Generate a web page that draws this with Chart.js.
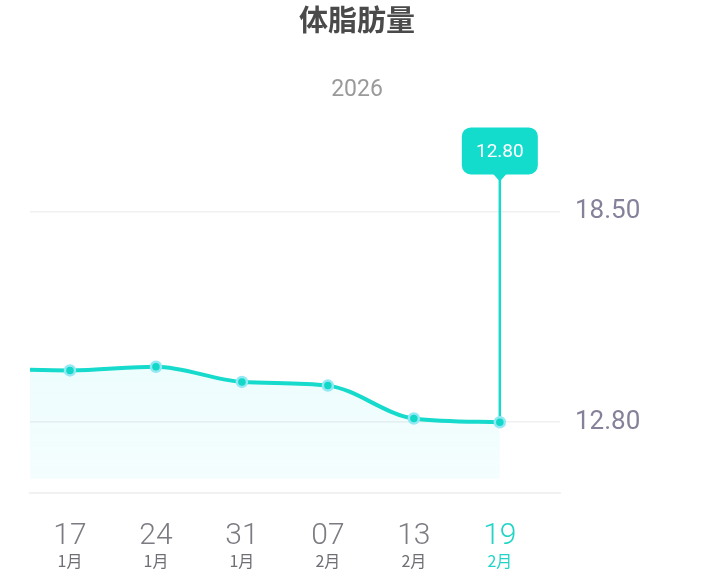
<!DOCTYPE html>
<html>
<head>
<meta charset="utf-8">
<script src="https://cdn.jsdelivr.net/npm/chart.js@4/dist/chart.umd.min.js"></script>
<style>
  html, body { margin: 0; padding: 0; background: #fff; }
  canvas { display: block; }
</style>
</head>
<body>
<canvas id="fatChart" width="714" height="576"></canvas>
<script>
// data
var dayLabels = ["17", "24", "31", "07", "13", "19"];
var monthLabels = ["1月", "1月", "1月", "2月", "2月", "2月"];
var fatMass = [14.20, 14.30, 13.89, 13.79, 12.90, 12.80];
var prevFatMass = 14.25; // reading before 17 Jan, only its line shows at the left edge
var yTicks = [12.80, 18.50];

var TEAL = "#16dacb";
var lastIdx = fatMass.length - 1;

// points on a linear index axis so the earlier reading can sit off the left edge
var points = [{ x: -1, y: prevFatMass }].concat(
    fatMass.map(function (v, i) { return { x: i, y: v }; })
);

function indexTicks(scale) {
    scale.ticks = dayLabels.map(function (d, i) { return { value: i }; });
}

// the selected-point marker: vertical line + value bubble
var markerPlugin = {
    id: "marker",
    beforeDatasetsDraw: function (chart) {
        var ctx = chart.ctx;
        var x = chart.scales.x.getPixelForValue(lastIdx);
        var y = chart.scales.y.getPixelForValue(fatMass[lastIdx]);
        var bottom = chart.chartArea.top - 37;
        var w = 76, h = 47, r = 9;
        ctx.save();
        ctx.strokeStyle = TEAL;
        ctx.lineWidth = 2.5;
        ctx.beginPath();
        ctx.moveTo(x, bottom + 4);
        ctx.lineTo(x, y);
        ctx.stroke();

        ctx.fillStyle = "#13dccd";
        ctx.beginPath();
        ctx.roundRect(x - w / 2, bottom - h, w, h, r);
        ctx.fill();
        ctx.beginPath();
        ctx.moveTo(x - 7, bottom - 1);
        ctx.lineTo(x + 7, bottom - 1);
        ctx.lineTo(x, bottom + 7);
        ctx.closePath();
        ctx.fill();

        ctx.fillStyle = "#ffffff";
        ctx.font = "19px Roboto";
        ctx.textAlign = "center";
        ctx.textBaseline = "middle";
        ctx.fillText(fatMass[lastIdx].toFixed(2), x, bottom - h / 2 + 1);
        ctx.restore();
    }
};

new Chart(document.getElementById("fatChart"), {
    type: "line",
    data: {
        datasets: [{
            data: points,
            xAxisID: "x",
            yAxisID: "y",
            borderColor: TEAL,
            borderWidth: 4,
            cubicInterpolationMode: "monotone",
            pointRadius: function (c) { return c.dataIndex === 0 ? 0 : 5; },
            pointBackgroundColor: "#12d8c8",
            pointBorderColor: "#92e8f4",
            pointBorderWidth: 2.5,
            fill: { value: 11.27 },
            backgroundColor: function (c) {
                var area = c.chart.chartArea;
                if (!area) return "rgba(20,220,230,0.07)";
                var g = c.chart.ctx.createLinearGradient(0, area.top + 150, 0, area.bottom);
                g.addColorStop(0, "rgba(20,222,232,0.08)");
                g.addColorStop(1, "rgba(20,222,232,0.04)");
                return g;
            }
        }]
    },
    options: {
        responsive: false,
        animation: false,
        layout: { padding: 0 },
        plugins: {
            legend: { display: false },
            tooltip: { enabled: false },
            title: {
                display: true,
                text: "体脂肪量",
                color: "#4a4a4a",
                font: { family: "'Noto Sans CJK SC', 'Noto Sans'", size: 29, weight: "bold" },
                padding: { top: 3, bottom: 0 }
            },
            subtitle: {
                display: true,
                text: "2026",
                color: "#9a9a9a",
                font: { family: "Roboto", size: 23 },
                padding: { top: 39, bottom: 107 }
            }
        },
        scales: {
            x: {
                type: "linear",
                position: "bottom",
                weight: 0,
                min: -0.465,
                max: 5.7,
                afterBuildTicks: indexTicks,
                afterFit: function (s) { s.height = 54; },
                grid: { display: false, drawTicks: false },
                border: { display: true, color: "#f1f1f1", width: 2 },
                ticks: {
                    padding: 26,
                    font: { family: "Roboto", size: 30, weight: 300 },
                    color: function (c) { return c.index === lastIdx ? "#22d4c6" : "#7b7b82"; },
                    callback: function (v) { return dayLabels[v]; }
                }
            },
            x2: {
                type: "linear",
                position: "bottom",
                weight: 1,
                min: -0.465,
                max: 5.7,
                afterBuildTicks: indexTicks,
                afterFit: function (s) { s.height = 29.3; },
                grid: { display: false, drawTicks: false },
                border: { display: false },
                ticks: {
                    padding: 5,
                    font: { family: "'Noto Sans CJK SC'", size: 16 },
                    color: function (c) { return c.index === lastIdx ? "#22d4c6" : "#6e6e74"; },
                    callback: function (v) { return monthLabels[v]; }
                }
            },
            y: {
                position: "right",
                min: 10.895,
                max: 18.5,
                afterBuildTicks: function (s) {
                    s.ticks = yTicks.map(function (v) { return { value: v }; });
                },
                afterFit: function (s) { s.width = 154; },
                grid: { color: "#f0f0f0", lineWidth: 1.5, drawTicks: false },
                border: { display: false },
                ticks: {
                    padding: 15,
                    font: { family: "Roboto", size: 26 },
                    color: "#85819a",
                    callback: function (v) { return v.toFixed(2); }
                }
            },
            // empty left gutter so the title stays centred on the page
            gutter: {
                type: "linear",
                position: "left",
                afterFit: function (s) { s.width = 30; },
                grid: { display: false, drawTicks: false },
                border: { display: false },
                ticks: { display: false }
            }
        }
    },
    plugins: [markerPlugin]
});
</script>
</body>
</html>
